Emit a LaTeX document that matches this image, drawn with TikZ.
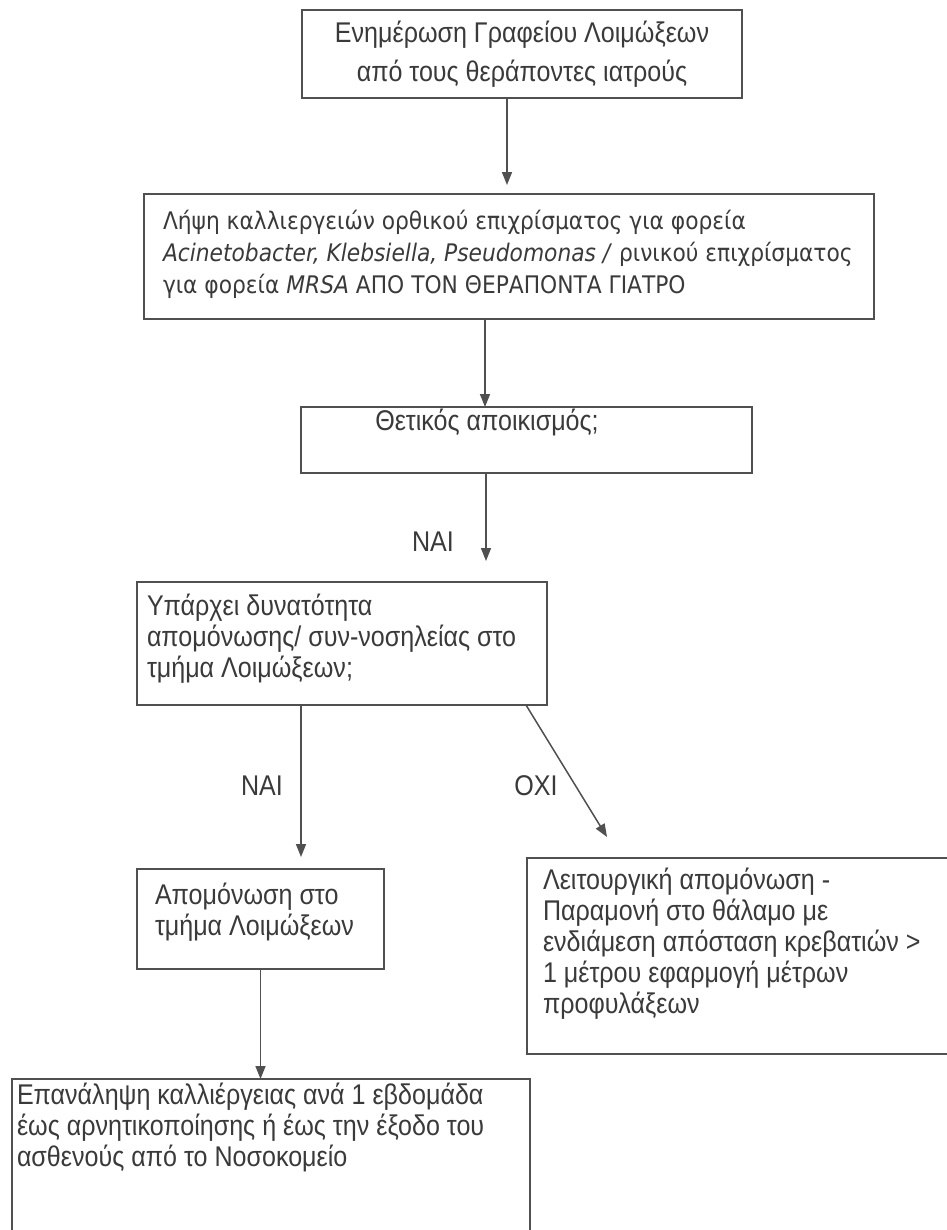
\documentclass[tikz,border=0pt]{standalone}
\usepackage{fontspec}
\setmainfont{Liberation Sans}[FakeStretch=0.88]
\newfontfamily\condfont{DejaVu Sans Condensed}
\usetikzlibrary{arrows.meta,calc}
\definecolor{ink}{HTML}{3A3A3A}
\definecolor{rulegray}{HTML}{505050}
% fixed height for the first line of every text block
\newcommand\firststrut{\rule{0pt}{28bp}}

\begin{document}
\begin{tikzpicture}[x=1bp,y=-1bp,
  box/.style={draw=rulegray,line width=1.5bp,inner sep=0pt,outer sep=0pt},
  txt/.style={inner sep=0pt,outer sep=0pt,text=ink,align=left,
    font=\fontsize{28.5bp}{31bp}\selectfont},
  lbl/.style={inner sep=0pt,text=ink,font=\fontsize{28.5bp}{31bp}\selectfont},
  arr/.style={draw=rulegray,line width=1.5bp,-{Triangle[length=13bp,width=10bp]}}]

\path[use as bounding box,fill=white] (0,0) rectangle (947,1230);

% ---- boxes ----
\node[box,minimum width=440bp,minimum height=88bp]  (b1) at (522,54) {};
\node[box,minimum width=730bp,minimum height=125bp] (b2) at (509,256.5) {};
\node[box,minimum width=451bp,minimum height=66bp]  (b3) at (526.5,440) {};
\node[box,minimum width=410bp,minimum height=123bp] (b4) at (342,643.5) {};
\node[box,minimum width=247bp,minimum height=100bp] (b5) at (260.5,919) {};
\node[box,minimum width=463bp,minimum height=196bp] (b6) at (758.5,956) {};
\node[box,minimum width=518bp,minimum height=181bp] (b7) at (271,1169.5) {};

% ---- texts ----
\node[txt,align=center,anchor=north] (t1) at (522,14)
  {\firststrut Ενημέρωση Γραφείου Λοιμώξεων\\[8bp]από τους θεράποντες ιατρούς};
\node[txt,anchor=north west,font=\condfont\fontsize{24.2bp}{32bp}\selectfont] (t2) at (163,201)
  {\firststrut Λήψη καλλιεργειών ορθικού επιχρίσματος για φορεία\\
   \textit{Acinetobacter, Klebsiella, Pseudomonas /} ρινικού επιχρίσματος\\
   για φορεία \textit{MRSA} ΑΠΟ ΤΟΝ ΘΕΡΑΠΟΝΤΑ ΓΙΑΤΡΟ};
\node[txt,anchor=north] (t3) at (487,402) {\firststrut Θετικός αποικισμός;};
\node[txt,anchor=north west] (t4) at (147,587)
  {\firststrut Υπάρχει δυνατότητα\\απομόνωσης/ συν-νοσηλείας στο\\τμήμα Λοιμώξεων;};
\node[txt,anchor=north west] (t5) at (155,876)
  {\firststrut Απομόνωση στο\\τμήμα Λοιμώξεων};
\node[txt,anchor=north west] (t6) at (543,861)
  {\firststrut Λειτουργική απομόνωση -\\Παραμονή στο θάλαμο με\\ενδιάμεση απόσταση κρεβατιών >\\1 μέτρου εφαρμογή μέτρων\\προφυλάξεων};
\node[txt,anchor=north west] (t7) at (17,1076)
  {\firststrut Επανάληψη καλλιέργειας ανά 1 εβδομάδα\\έως αρνητικοποίησης ή έως την έξοδο του\\ασθενούς από το Νοσοκομείο};

% ---- connector anchors ----
\coordinate (s1) at ($(b1.south)+(-15,0)$);
\coordinate (s2) at ($(b2.south)+(-24,0)$);
\coordinate (s3) at ($(b3.south)+(-40.5,0)$);
\coordinate (s4) at ($(b4.south)+(-41,0)$);
\coordinate (s4b) at ($(b4.south)+(184,0)$);
\coordinate (oxiend) at (607,837);

% ---- connectors ----
\draw[arr,shorten >=9bp]  (s1) -- (s1 |- b2.north);
\draw[arr]                (s2) -- (s2 |- b3.north);
\draw[arr,shorten >=21bp] (s3) -- (s3 |- b4.north);
\draw[arr,shorten >=12bp] (s4) -- (s4 |- b5.north);
\draw[arr]                (s4b) -- (oxiend);
\draw[arr]                (b5.south) -- (b5.south |- b7.north);

% ---- branch labels ----
\node[lbl] (yes1) at (433,542) {ΝΑΙ};
\node[lbl] (yes2) at (262,786) {ΝΑΙ};
\node[lbl] (no2)  at (536,786) {ΟΧΙ};
\end{tikzpicture}
\end{document}
